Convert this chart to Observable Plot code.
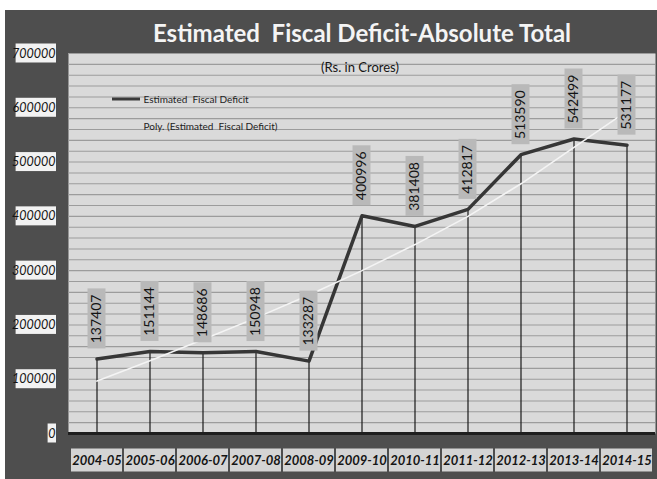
<!DOCTYPE html>
<html><head><meta charset="utf-8">
<script src="https://cdn.jsdelivr.net/npm/d3@7"></script>
<script src="https://cdn.jsdelivr.net/npm/@observablehq/plot@0.6"></script>
<style>
html,body{margin:0;padding:0;background:#fff;}
#wrap{position:relative;width:657px;height:479px;overflow:hidden;}
#bg{position:absolute;left:5px;top:10px;width:652px;height:469px;background:#4e4e4e;}
#chart{position:absolute;left:0;top:0;}
</style></head><body>
<div id="wrap"><div id="bg"></div><div id="chart"></div></div>
<script>
const title = "Estimated  Fiscal Deficit-Absolute Total";
const subtitle = "(Rs. in Crores)";
const years = ["2004-05","2005-06","2006-07","2007-08","2008-09","2009-10","2010-11","2011-12","2012-13","2013-14","2014-15"];
const deficit = [137407,151144,148686,150948,133287,400996,381408,412817,513590,542499,531177];
const trend = [96500,134000,173000,213000,255000,300000,348000,400000,460000,527000,594000];
const yTicks = [0,100000,200000,300000,400000,500000,600000,700000];
const gridTicks = [20000,40000,60000,80000,100000,120000,140000,160000,180000,200000,220000,240000,260000,280000,300000,320000,340000,360000,380000,400000,420000,440000,460000,480000,500000,520000,540000,560000,580000,600000,620000,640000,660000,680000,700000];
const legendLine = "Estimated  Fiscal Deficit";
const legendTrend = "Poly. (Estimated  Fiscal Deficit)";

const rows = years.map((y, i) => ({year: y, value: deficit[i], trend: trend[i]}));
const FONT = "Lato, 'Open Sans', sans-serif";

const bandCenter = (s, v) => s.x(v) + (s.x.bandwidth ? s.x.bandwidth() / 2 : 0);

// boxes drawn behind labels, positioned through Plot's scales
function boxes(items, pos, fill) {
  return (index, scales, values, dim) => {
    const g = d3.create("svg:g");
    for (const d of items) {
      const b = pos(d, scales, dim);
      g.append("rect").attr("x", b.x - b.w / 2).attr("y", b.y - b.h / 2)
        .attr("width", b.w).attr("height", b.h).attr("fill", fill);
    }
    return g.node();
  };
}

const legendSample = (index, scales, values, dim) => {
  const g = d3.create("svg:g");
  g.append("line").attr("x1", dim.marginLeft + 44).attr("x2", dim.marginLeft + 72)
    .attr("y1", dim.marginTop + 46).attr("y2", dim.marginTop + 46)
    .attr("stroke", "#3a3a3a").attr("stroke-width", 3);
  return g.node();
};

const chart = Plot.plot({
  width: 657, height: 479,
  marginLeft: 68, marginRight: 2, marginTop: 53, marginBottom: 46,
  style: {background: "transparent", fontFamily: FONT},
  x: {type: "band", domain: years, padding: 0, axis: null},
  y: {domain: [0, 700000], axis: null},
  marks: [
    Plot.frame({fill: "#dadada"}),
    Plot.ruleY(gridTicks, {stroke: "#9c9c9c", strokeWidth: 1.1}),
    Plot.ruleX(rows, {x: "year", y1: 0, y2: "value", stroke: "#1a1a1a", strokeWidth: 1.2}),
    Plot.ruleY([0], {stroke: "#1e1e1e", strokeWidth: 3}),
    Plot.line(rows, {x: "year", y: "value", stroke: "#363636", strokeWidth: 3.5}),
    Plot.line(rows, {x: "year", y: "trend", stroke: "#f4f4f4", strokeWidth: 1.6}),
    boxes(rows, (d, s) => ({x: bandCenter(s, d.year), y: s.y(d.value) - 40, w: 18, h: 60}), "#b9b9b9"),
    Plot.text(rows, {x: "year", y: "value", text: d => String(d.value), rotate: -90, dy: -40,
      fontSize: 14, fill: "#141414", fontFamily: FONT}),
    boxes(yTicks, (t, s, dim) => {const w = String(t).length * 6.4 + 2; return {x: dim.marginLeft - 13 - w / 2 + 1, y: s.y(t), w, h: 19};}, "#f2f2f2"),
    Plot.text(yTicks, {y: d => d, text: d => String(d), frameAnchor: "left", dx: -13, textAnchor: "end",
      fontStyle: "italic", fontSize: 12.5, fill: "#151515", fontFamily: FONT}),
    boxes(years, (v, s, dim) => ({x: bandCenter(s, v), y: dim.height - dim.marginBottom + 27, w: 51, h: 23}), "#d4d4d4"),
    Plot.text(years, {x: d => d, text: d => d, frameAnchor: "bottom", lineAnchor: "middle", dy: 27,
      fontWeight: "bold", fontStyle: "italic", fontSize: 13, fill: "#151515", fontFamily: FONT}),
    Plot.text([title], {text: d => d, frameAnchor: "top", lineAnchor: "middle", dy: -19, fontSize: 24, fontWeight: "bold", fill: "#f4f4f4", fontFamily: FONT}),
    Plot.text([subtitle], {text: d => d, frameAnchor: "top", lineAnchor: "middle", dx: -2, dy: 14, fontSize: 13, fill: "#151515", fontFamily: FONT}),
    legendSample,
    Plot.text([legendLine], {text: d => d, frameAnchor: "top-left", lineAnchor: "middle", textAnchor: "start", dx: 75, dy: 46,
      fontSize: 10, fill: "#222", fontFamily: FONT}),
    Plot.text([legendTrend], {text: d => d, frameAnchor: "top-left", lineAnchor: "middle", textAnchor: "start", dx: 75, dy: 73,
      fontSize: 10, fill: "#222", fontFamily: FONT})
  ]
});
document.getElementById("chart").appendChild(chart);
</script>
</body></html>
